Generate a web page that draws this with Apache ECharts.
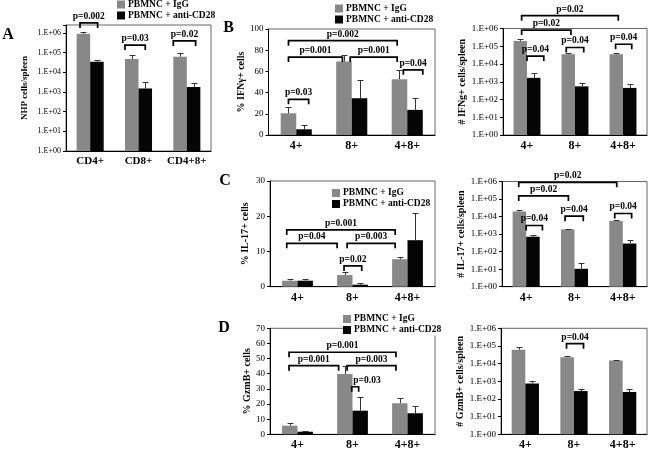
<!DOCTYPE html>
<html><head><meta charset="utf-8">
<script src="https://cdn.jsdelivr.net/npm/echarts@6/dist/echarts.min.js"></script>
<style>html,body{margin:0;padding:0;background:#fff}#c{width:650px;height:453px}</style>
</head><body><div id="c"></div>
<script>
// ---------- data ----------
const seriesNames = ['PBMNC + IgG', 'PBMNC + anti-CD28'];
const catsA = ['CD4+', 'CD8+', 'CD4+8+'];
const catsBCD = ['4+', '8+', '4+8+'];

// Panel A: NHP cells/spleen
const aIgG = [9.0e5, 4.7e4, 6.1e4];
const aIgGErr = [2.0e5, 2.7e4, 3.0e4];
const aCD28 = [3.4e4, 1.5e3, 1.8e3];
const aCD28Err = [7e3, 1.8e3, 9e2];

// Panel B left: % IFNγ+ cells
const bPctIgG = [20.5, 69.3, 52.7];
const bPctIgGErr = [5.5, 6.4, 8.8];
const bPctCD28 = [5.4, 34.7, 23.7];
const bPctCD28Err = [4.1, 17.3, 11];

// Panel B right: # IFNg+ cells/spleen
const bNumIgG = [2.0e5, 3.5e4, 3.5e4];
const bNumIgGErr = [5e4, 9e3, 9e3];
const bNumCD28 = [1.66e3, 5.5e2, 4.5e2];
const bNumCD28Err = [1.5e3, 3.1e2, 3.1e2];

// Panel C left: % IL-17+ cells
const cPctIgG = [1.7, 3.3, 7.8];
const cPctIgGErr = [0.5, 0.8, 0.5];
const cPctCD28 = [1.7, 0.57, 13.2];
const cPctCD28Err = [0.4, 0.5, 7.8];

// Panel C right: # IL-17+ cells/spleen
const cNumIgG = [1.96e4, 1.87e3, 5.6e3];
const cNumIgGErr = [4e3, 2e2, 8e2];
const cNumCD28 = [7.1e2, 10.5, 2.9e2];
const cNumCD28Err = [1.3e2, 11.5, 2e2];

// Panel D left: % GzmB+ cells
const dPctIgG = [5.7, 39.8, 20.5];
const dPctIgGErr = [2.0, 5.5, 3.3];
const dPctCD28 = [1.7, 15.6, 13.9];
const dPctCD28Err = [0.7, 8.8, 4.8];

// Panel D right: # GzmB+ cells/spleen
const dNumIgG = [6.1e4, 2.3e4, 1.5e4];
const dNumIgGErr = [2.6e4, 4e3, 2e3];
const dNumCD28 = [7.5e2, 2.8e2, 2.5e2];
const dNumCD28Err = [3e2, 1.1e2, 1.4e2];

// significance brackets: [fromCat, fromSide, toCat, toSide, level, label, (labelSide)]
const brA = [
  [0, -0.75, 0, 0.55, 3.2e6, 'p=0.002'],
  [1, -1.0, 1, 0.5, 2.4e5, 'p=0.03'],
  [2, -1.0, 2, 0.65, 3.9e5, 'p=0.02']
];
const brBPct = [
  [0, -0.5, 2, -0.65, 89, 'p=0.002'],
  [0, -0.5, 1, -0.6, 73.5, 'p=0.001'],
  [1, -0.1, 2, -0.65, 73.5, 'p=0.001'],
  [0, -0.5, 0, 0.8, 33.7, 'p=0.03'],
  [2, -0.25, 2, 1.0, 61.5, 'p=0.04']
];
const brBNum = [
  [0, -0.4, 2, -0.35, 5.3e6, 'p=0.02'],
  [0, -0.4, 1, -0.3, 8.1e5, 'p=0.02'],
  [0, 0, 0, 1.25, 2.8e4, 'p=0.04'],
  [1, -0.65, 1, 0.65, 8.5e4, 'p=0.04'],
  [2, -0.55, 2, 0.65, 1.3e5, 'p=0.04']
];
const brCPct = [
  [0, -0.7, 2, -0.8, 16.1, 'p=0.001'],
  [0, -0.7, 1, -1.0, 12.3, 'p=0.04'],
  [1, -0.35, 2, -0.8, 12.3, 'p=0.003'],
  [1, -0.55, 1, 0.6, 5.9, 'p=0.02']
];
const brCNum = [
  [0, -0.55, 2, -0.45, 9e5, 'p=0.02'],
  [0, -0.55, 1, -0.45, 1.5e5, 'p=0.02'],
  [0, 0, 0, 1.2, 3.1e3, 'p=0.04'],
  [1, -0.7, 1, 0.65, 1.05e4, 'p=0.04'],
  [2, -0.6, 2, 0.65, 1.5e4, 'p=0.04']
];
const brDPct = [
  [0, -0.55, 2, -0.75, 54.2, 'p=0.001'],
  [0, -0.55, 1, -0.9, 45.3, 'p=0.001'],
  [1, -0.35, 2, -0.75, 45.3, 'p=0.003'],
  [1, -0.05, 1, 0.4, 31.4, 'p=0.03', 0.94]
];
const brDNum = [
  [1, -0.55, 1, 0.7, 1.35e5, 'p=0.04']
];

// ---------- styling / layout ----------
const FONT = '"Liberation Serif", "Times New Roman", serif';
const GRAY = '#888888', BLACK = '#050505';
const BARW = 0.28;

function expLabel(v) {
  const e = Math.log10(v), r = Math.round(e);
  if (Math.abs(e - r) > 1e-6) return '';
  return '1.E+' + (r < 10 ? '0' : '') + r;
}

const panels = [
  {grid: {left: 66, top: 25, width: 145, height: 126}, cats: catsA, log: true, max: Math.pow(10, 6.4),
   title: 'NHP cells/spleen', tSize: 9, gap: 37, tick: 8, xSize: 11,
   ig: aIgG, igE: aIgGErr, cd: aCD28, cdE: aCD28Err, br: brA},
  {grid: {left: 268.5, top: 29, width: 166.5, height: 106}, cats: catsBCD, log: false, max: 100, interval: 20,
   title: '% IFNγ+ cells', tSize: 10, gap: 17, tick: 9, xSize: 12,
   ig: bPctIgG, igE: bPctIgGErr, cd: bPctCD28, cdE: bPctCD28Err, br: brBPct},
  {grid: {left: 503, top: 28.5, width: 144, height: 106.5}, cats: catsBCD, log: true, max: 1e6,
   title: '# IFNg+ cells/spleen', tSize: 10, gap: 36, tick: 9, xSize: 12,
   ig: bNumIgG, igE: bNumIgGErr, cd: bNumCD28, cdE: bNumCD28Err, br: brBNum},
  {grid: {left: 270, top: 181, width: 165, height: 105.7}, cats: catsBCD, log: false, max: 30, interval: 10,
   title: '% IL-17+ cells', tSize: 10, gap: 20, tick: 9, xSize: 12,
   ig: cPctIgG, igE: cPctIgGErr, cd: cPctCD28, cdE: cPctCD28Err, br: brCPct},
  {grid: {left: 502, top: 181.5, width: 145, height: 105.2}, cats: catsBCD, log: true, max: 1e6,
   title: '# IL-17+ cells/spleen', tSize: 10, gap: 36, tick: 9, xSize: 12,
   ig: cNumIgG, igE: cNumIgGErr, cd: cNumCD28, cdE: cNumCD28Err, br: brCNum},
  {grid: {left: 270, top: 328.3, width: 165, height: 106}, cats: catsBCD, log: false, max: 70, interval: 10,
   title: '% GzmB+ cells', tSize: 10, gap: 18, tick: 9, xSize: 12,
   ig: dPctIgG, igE: dPctIgGErr, cd: dPctCD28, cdE: dPctCD28Err, br: brDPct},
  {grid: {left: 501, top: 328.3, width: 146, height: 106}, cats: catsBCD, log: true, max: 1e6,
   title: '# GzmB+ cells/spleen', tSize: 10, gap: 36, tick: 9, xSize: 12,
   ig: dNumIgG, igE: dNumIgGErr, cd: dNumCD28, cdE: dNumCD28Err, br: brDNum}
];

function errSeries(i, vals, errs, side) {
  return {
    type: 'custom', xAxisIndex: i, yAxisIndex: i, silent: true, clip: false, z: 3,
    data: vals.map((v, k) => [k, v, v + errs[k]]),
    renderItem(params, api) {
      const k = api.value(0), v = api.value(1), top = api.value(2);
      const p0 = api.coord([k, v]), p1 = api.coord([k, top]);
      const band = api.coord([1, v])[0] - api.coord([0, v])[0];
      const x = Math.round(p0[0] + side * band * BARW / 2) + 0.5;
      const y1 = Math.round(p1[1]) + 0.5;
      const cap = 3;
      return {type: 'group', children: [
        {type: 'line', shape: {x1: x, y1: p0[1], x2: x, y2: y1}, style: {stroke: '#333', lineWidth: 1}},
        {type: 'line', shape: {x1: x - cap, y1: y1, x2: x + cap, y2: y1}, style: {stroke: '#333', lineWidth: 1}}
      ]};
    }
  };
}

function bracketSeries(i, br) {
  return {
    type: 'custom', xAxisIndex: i, yAxisIndex: i, silent: true, clip: false, z: 4,
    data: br.map(b => [b[0], b[4]]),
    renderItem(params, api) {
      const b = br[params.dataIndex];
      const yv = b[4];
      const c1 = api.coord([b[0], yv]), c2 = api.coord([b[2], yv]);
      const band = api.coord([1, yv])[0] - api.coord([0, yv])[0];
      const bw = band * BARW;
      const x1 = c1[0] + b[1] * bw, x2 = c2[0] + b[3] * bw, y = c1[1];
      const lx = b.length > 6 ? c2[0] + b[6] * bw : (x1 + x2) / 2;
      const tk = 5;
      return {type: 'group', children: [
        {type: 'polyline', shape: {points: [[x1, y + tk], [x1, y], [x2, y], [x2, y + tk]]},
         style: {stroke: '#000', lineWidth: 1.7, fill: null}},
        {type: 'text', x: lx, y: y - 1.5,
         style: {text: b[5], fill: '#000', font: 'bold 9.5px ' + FONT, align: 'center', verticalAlign: 'bottom'}}
      ]};
    }
  };
}

const grid = [], xAxis = [], yAxis = [], series = [];
panels.forEach((p, i) => {
  grid.push(Object.assign({show: true, borderColor: '#666', borderWidth: 1}, p.grid));
  xAxis.push({
    type: 'category', gridIndex: i, data: p.cats,
    axisLine: {onZero: false, lineStyle: {color: '#000'}}, axisTick: {show: false},
    axisLabel: {color: '#000', fontFamily: FONT, fontWeight: 'bold', fontSize: p.xSize, margin: 5, interval: 0},
    splitLine: {show: false}
  });
  const y = {
    gridIndex: i, name: p.title, nameLocation: 'middle', nameGap: p.gap,
    nameTextStyle: {fontFamily: FONT, fontWeight: 'bold', fontSize: p.tSize, color: '#000'},
    axisLine: {show: true, onZero: false, lineStyle: {color: '#000'}},
    axisTick: {show: true, inside: false, length: 3, lineStyle: {color: '#000'}},
    axisLabel: {fontFamily: FONT, fontSize: p.tick, color: '#000', margin: 5},
    splitLine: {show: false}, min: p.log ? 1 : 0, max: p.max
  };
  if (p.log) { y.type = 'log'; y.logBase = 10; y.axisLabel.formatter = expLabel; }
  else { y.type = 'value'; y.interval = p.interval; }
  yAxis.push(y);
  series.push({type: 'bar', name: seriesNames[0], xAxisIndex: i, yAxisIndex: i, data: p.ig,
    barWidth: '28%', barGap: '0%', itemStyle: {color: GRAY}, silent: true});
  series.push({type: 'bar', name: seriesNames[1], xAxisIndex: i, yAxisIndex: i, data: p.cd,
    barWidth: '28%', barGap: '0%', itemStyle: {color: BLACK}, silent: true});
  series.push(errSeries(i, p.ig, p.igE, -1));
  series.push(errSeries(i, p.cd, p.cdE, 1));
  series.push(bracketSeries(i, p.br));
});

function legendAt(left, top, bg) {
  return {data: seriesNames, orient: 'vertical', left: left, top: top, itemWidth: 8, itemHeight: 8,
    itemGap: 0, padding: 0, icon: 'rect', selectedMode: false, backgroundColor: bg || 'transparent',
    textStyle: {fontFamily: FONT, fontWeight: 'bold', fontSize: 9.5, lineHeight: 11, color: '#000', padding: [0, 0, 0, -2]}};
}

const letterStyle = {font: 'bold 16px ' + FONT, fill: '#000', align: 'center', verticalAlign: 'middle'};
const option = {
  animation: false,
  backgroundColor: '#fff',
  grid, xAxis, yAxis, series,
  legend: [legendAt(117, -1), legendAt(335, 3), legendAt(332, 187.5), legendAt(343, 313.5, '#fff')],
  graphic: [
    {type: 'text', x: 8, y: 35, style: Object.assign({text: 'A'}, letterStyle)},
    {type: 'text', x: 228.5, y: 27.5, style: Object.assign({text: 'B'}, letterStyle)},
    {type: 'text', x: 225, y: 181, style: Object.assign({text: 'C'}, letterStyle)},
    {type: 'text', x: 224, y: 328, style: Object.assign({text: 'D'}, letterStyle)}
  ]
};
const chart = echarts.init(document.getElementById('c'), null, {renderer: 'canvas'});
chart.setOption(option);
</script>
</body></html>
